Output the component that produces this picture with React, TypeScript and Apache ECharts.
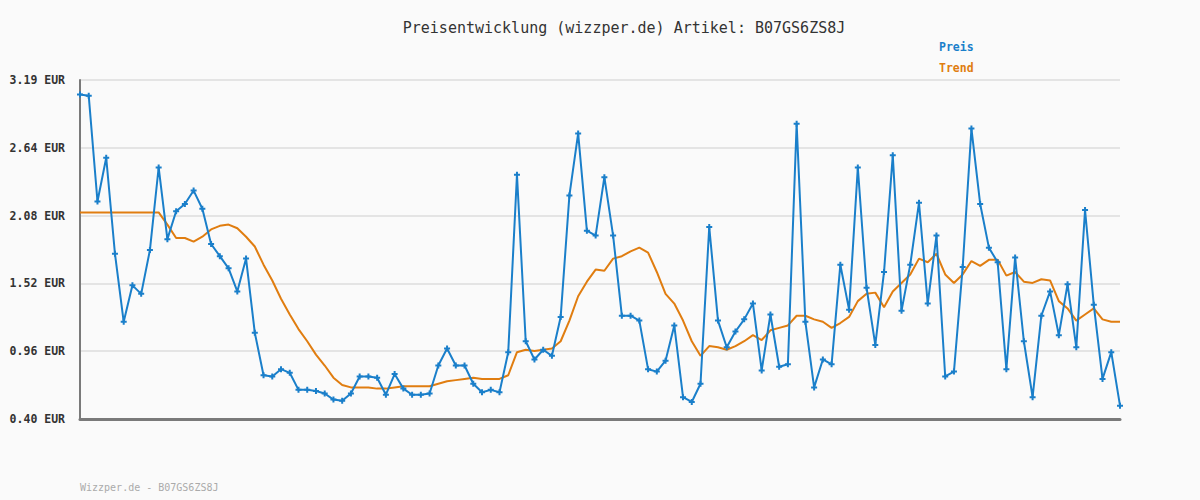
import React, { useEffect, useRef } from "react";
import * as echarts from "echarts";

const titleText = "Preisentwicklung (wizzper.de) Artikel: B07GS6ZS8J";
const footerText = "Wizzper.de - B07GS6ZS8J";
const seriesNames = ["Preis", "Trend"];

const preis = [
  3.07, 3.06, 2.19, 2.55, 1.76, 1.2, 1.5, 1.43, 1.79, 2.47,
  1.88, 2.11, 2.17, 2.28, 2.13, 1.84, 1.74, 1.64, 1.45, 1.72,
  1.11, 0.76, 0.75, 0.81, 0.78, 0.64, 0.64, 0.63, 0.61, 0.56,
  0.55, 0.61, 0.75, 0.75, 0.74, 0.6, 0.77, 0.65, 0.6, 0.6,
  0.61, 0.84, 0.98, 0.84, 0.84, 0.69, 0.62, 0.64, 0.62, 0.95,
  2.41, 1.04, 0.89, 0.97, 0.92, 1.24, 2.24, 2.75, 1.95, 1.91,
  2.39, 1.91, 1.25, 1.25, 1.21, 0.81, 0.79, 0.88, 1.17, 0.58,
  0.54, 0.69, 1.98, 1.21, 0.99, 1.12, 1.22, 1.35, 0.8, 1.26,
  0.83, 0.85, 2.83, 1.2, 0.66, 0.89, 0.85, 1.67, 1.3, 2.47,
  1.48, 1.01, 1.61, 2.57, 1.29, 1.67, 2.18, 1.35, 1.91, 0.75,
  0.79, 1.65, 2.79, 2.17, 1.81, 1.69, 0.81, 1.73, 1.04, 0.58,
  1.25, 1.45, 1.09, 1.51, 0.99, 2.12, 1.34, 0.73, 0.95, 0.51,
];

const trend = [
  2.1, 2.1, 2.1, 2.1, 2.1, 2.1, 2.1, 2.1, 2.1, 2.1,
  2.0, 1.89, 1.89, 1.86, 1.9, 1.96, 1.99, 2.0, 1.97, 1.9,
  1.82, 1.67, 1.54, 1.39, 1.26, 1.14, 1.04, 0.93, 0.84, 0.74,
  0.68, 0.66, 0.66, 0.66, 0.65, 0.65, 0.66, 0.67, 0.67, 0.67,
  0.67, 0.69, 0.71, 0.72, 0.73, 0.74, 0.73, 0.73, 0.73, 0.76,
  0.95, 0.97, 0.96, 0.97, 0.98, 1.04, 1.21, 1.41, 1.53, 1.63,
  1.62, 1.72, 1.74, 1.78, 1.81, 1.77, 1.61, 1.43, 1.35, 1.21,
  1.04, 0.92, 1.0, 0.99, 0.97, 1.0, 1.04, 1.09, 1.05, 1.13,
  1.15, 1.17, 1.25, 1.25, 1.22, 1.2, 1.15, 1.19, 1.24, 1.37,
  1.43, 1.44, 1.32, 1.45, 1.52, 1.59, 1.72, 1.69, 1.76, 1.59,
  1.52, 1.59, 1.7, 1.66, 1.71, 1.71, 1.58, 1.61, 1.53, 1.52,
  1.55, 1.54, 1.37, 1.31, 1.21, 1.26, 1.31, 1.22, 1.2, 1.2,
];

const categories = preis.map((_, i) => String(i + 1));
const yTicks = [0.4, 0.958, 1.516, 2.074, 2.632, 3.19];
const yTickLabels = ["0.40", "0.96", "1.52", "2.08", "2.64", "3.19"];
const yMin = 0.4;
const yMax = 3.19;

const BLUE = "#1a7fca";
const ORANGE = "#e07d10";
const MONO = "'DejaVu Sans Mono', 'Liberation Mono', monospace";

export default function App() {
  const ref = useRef<HTMLDivElement>(null);
  useEffect(() => {
    if (!ref.current) return;
    const chart = echarts.init(ref.current, undefined, { renderer: "svg" });
    chart.setOption({
      animation: false,
      backgroundColor: "#fafafa",
      grid: { left: 80, right: 80, top: 80, bottom: 81, containLabel: false },
      xAxis: {
        type: "category",
        data: categories,
        boundaryGap: false,
        axisLine: { show: true, lineStyle: { color: "#7a7a7a", width: 3 } },
        axisTick: { show: false },
        axisLabel: { show: false },
        splitLine: { show: false },
      },
      yAxis: {
        type: "value",
        min: yMin,
        max: yMax,
        axisLine: { show: true, lineStyle: { color: "#7a7a7a", width: 2 } },
        axisTick: { show: false, customValues: yTicks },
        axisLabel: {
          customValues: yTicks,
          margin: 15,
          fontFamily: MONO,
          fontSize: 11.5,
          fontWeight: "bold",
          color: "#333",
          formatter: (v: number) => {
            let idx = 0;
            let best = Infinity;
            yTicks.forEach((t, i) => {
              const d = Math.abs(t - v);
              if (d < best) {
                best = d;
                idx = i;
              }
            });
            return yTickLabels[idx] + " EUR";
          },
        },
        splitLine: { show: true, lineStyle: { color: "#e4e4e4", width: 2 } },
      },
      series: [
        {
          name: seriesNames[0],
          type: "line",
          data: preis,
          symbol: "path://M2,0H4V2H6V4H4V6H2V4H0V2H2Z",
          symbolSize: 6,
          showSymbol: true,
          showAllSymbol: true,
          itemStyle: { color: BLUE },
          lineStyle: { color: BLUE, width: 2 },
          z: 3,
        },
        {
          name: seriesNames[1],
          type: "line",
          data: trend,
          symbol: "none",
          itemStyle: { color: ORANGE },
          lineStyle: { color: ORANGE, width: 2 },
          z: 2,
        },
      ],
      graphic: [
        {
          type: "text",
          x: 624,
          y: 28,
          style: {
            text: titleText,
            fontFamily: MONO,
            fontSize: 15,
            fill: "#333",
            align: "center",
            verticalAlign: "middle",
          },
        },
        {
          type: "text",
          x: 939,
          y: 47,
          style: {
            text: seriesNames[0],
            fontFamily: MONO,
            fontSize: 11.5,
            fontWeight: "bold",
            fill: BLUE,
            align: "left",
            verticalAlign: "middle",
          },
        },
        {
          type: "text",
          x: 939,
          y: 68,
          style: {
            text: seriesNames[1],
            fontFamily: MONO,
            fontSize: 11.5,
            fontWeight: "bold",
            fill: ORANGE,
            align: "left",
            verticalAlign: "middle",
          },
        },
        {
          type: "text",
          x: 80,
          y: 487,
          style: {
            text: footerText,
            fontFamily: MONO,
            fontSize: 10,
            fill: "#aaaaaa",
            align: "left",
            verticalAlign: "middle",
          },
        },
      ],
    });
    return () => chart.dispose();
  }, []);
  return (
    <div
      ref={ref}
      style={{ position: "fixed", left: 0, top: 0, width: 1200, height: 500 }}
    />
  );
}
